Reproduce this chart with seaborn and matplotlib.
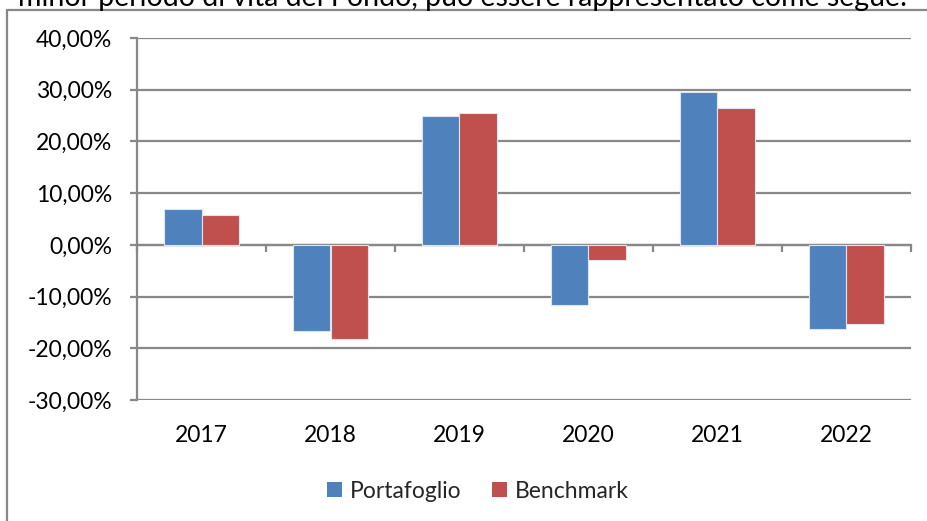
import matplotlib
matplotlib.use("Agg")
import matplotlib.pyplot as plt
import seaborn as sns
import pandas as pd
from matplotlib.lines import Line2D
from matplotlib.ticker import FuncFormatter, FixedLocator

years = ["2017", "2018", "2019", "2020", "2021", "2022"]
portafoglio = [7.0, -16.6, 25.0, -11.7, 29.5, -16.2]
benchmark = [5.8, -18.2, 25.5, -3.0, 26.4, -15.3]
series_names = ["Portafoglio", "Benchmark"]
yticks = [-30, -20, -10, 0, 10, 20, 30, 40]

df = pd.DataFrame({
    "Anno": years * 2,
    "Valore": portafoglio + benchmark,
    "Serie": [series_names[0]] * len(years) + [series_names[1]] * len(years),
})

sns.set_theme(style="white")
FONT = ["Lato", "DejaVu Sans"]
plt.rcParams["font.family"] = FONT
FS = 16.5

fig = plt.figure(figsize=(9.28, 5.21), dpi=100)
ax = fig.add_axes([137 / 928, 1 - 400 / 521, 774 / 928, 362 / 521])

sns.barplot(data=df, x="Anno", y="Valore", hue="Serie", order=years,
            hue_order=series_names, palette=["#4F81BD", "#C0504D"],
            saturation=1, width=0.574, gap=0, edgecolor="#dde6f0", linewidth=0.8,
            ax=ax, legend=True, zorder=3)

ax.set_xlim(-0.5, len(years) - 0.5)
ax.set_ylim(-30, 40)
ax.set_yticks(yticks)
ax.yaxis.set_major_formatter(FuncFormatter(lambda v, p: f"{v:.2f}".replace(".", ",") + "%"))
ax.yaxis.grid(True, color="#888888", linewidth=1.6, zorder=0)
ax.set_axisbelow(True)
ax.set_xlabel("")
ax.set_ylabel("")

for s in ["top", "right", "bottom"]:
    ax.spines[s].set_visible(False)
ax.spines["left"].set_color("#888888")
ax.spines["left"].set_linewidth(1.6)

ax.tick_params(axis="y", left=True, length=5, width=1.6, color="#888888",
               labelsize=FS, labelcolor="black", pad=13)
ax.tick_params(axis="x", bottom=False, labelsize=FS, labelcolor="black", pad=12)

# zero line axis with category boundary ticks
sec = ax.secondary_xaxis(30 / 70)
sec.spines["bottom"].set_color("#888888")
sec.spines["bottom"].set_linewidth(1.6)
sec.xaxis.set_major_locator(FixedLocator([i - 0.5 for i in range(len(years) + 1)]))
sec.tick_params(axis="x", length=5, width=1.6, color="#888888", labelbottom=False)

leg = ax.legend(loc="center", bbox_to_anchor=(478 / 928, 1 - 491 / 521),
                bbox_transform=fig.transFigure, ncol=2, frameon=False,
                fontsize=FS, handlelength=0.65, handleheight=0.65,
                handletextpad=0.35, columnspacing=1.3)
for h in leg.legend_handles:
    h.set_edgecolor("none")

# outer frame lines
fig.add_artist(Line2D([7 / 928, 1], [1 - 10 / 521, 1 - 10 / 521], color="#888888",
                      linewidth=1.6, transform=fig.transFigure))
fig.add_artist(Line2D([7 / 928, 7 / 928], [0, 1 - 10 / 521], color="#888888",
                      linewidth=1.6, transform=fig.transFigure))

fig.text(18 / 928, 1 - 6 / 521, "minor periodo di vita del Fondo, può essere rappresentato come segue:",
         fontsize=20.5, ha="left", va="baseline", color="black")

fig.savefig("out.png", dpi=100)
